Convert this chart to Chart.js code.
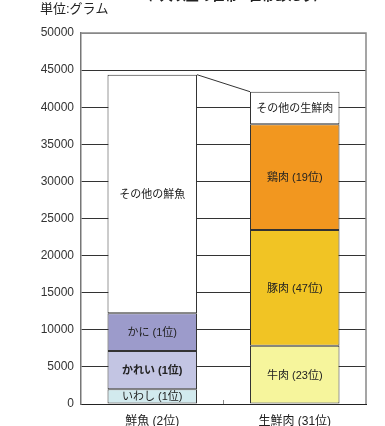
<!DOCTYPE html>
<html>
<head>
<meta charset="utf-8">
<script src="https://cdn.jsdelivr.net/npm/chart.js@4"></script>
<style>
  body { margin: 0; background: #fff; }
  canvas { display: block; }
</style>
</head>
<body>
<canvas id="chart" width="385" height="426"></canvas>
<script>
// categories and stacked segments (grams)
const categories = ['鮮魚 (2位)', '生鮮肉 (31位)'];
const layer1 = [2000, 7860];    // いわし / 牛肉
const layer2 = [5150, 15590];   // かれい / 豚肉
const layer3 = [5070, 14240];   // かに / 鶏肉
const layer4 = [32160, 4400];   // その他の鮮魚 / その他の生鮮肉
const layer1Labels = ['いわし (1位)', '牛肉 (23位)'];
const layer2Labels = ['かれい (1位)', '豚肉 (47位)'];
const layer3Labels = ['かに (1位)', '鶏肉 (19位)'];
const layer4Labels = ['その他の鮮魚', 'その他の生鮮肉'];
const yTicks = [0, 5000, 10000, 15000, 20000, 25000, 30000, 35000, 40000, 45000, 50000];

const FONT = "'Liberation Sans', Arial, 'Noto Sans CJK JP', sans-serif";

// text inside each segment
const segmentLabels = {
    id: 'segmentLabels',
    afterDatasetsDraw(chart) {
        const ctx = chart.ctx;
        ctx.save();
        ctx.textAlign = 'center';
        ctx.textBaseline = 'middle';
        ctx.fillStyle = '#222';
        chart.data.datasets.forEach((ds, i) => {
            const meta = chart.getDatasetMeta(i);
            meta.data.forEach((bar, j) => {
                const bold = ds.boldIndex === j;
                ctx.font = (bold ? 'bold ' : '') + '11px ' + FONT;
                ctx.fillText(ds.segLabels[j], bar.x, (bar.y + bar.base) / 2 + 1);
            });
        });
        // connector line between the two bar tops
        const top = chart.getDatasetMeta(chart.data.datasets.length - 1).data;
        ctx.strokeStyle = '#333';
        ctx.lineWidth = 1;
        ctx.beginPath();
        ctx.moveTo(top[0].x + top[0].width / 2, top[0].y);
        ctx.lineTo(top[1].x - top[1].width / 2, top[1].y);
        ctx.stroke();
        ctx.restore();
    }
};

// frame, middle tick, unit and (cut off) title
const frame = {
    id: 'frame',
    afterDraw(chart) {
        const { ctx, chartArea: a, scales } = chart;
        ctx.save();
        ctx.strokeStyle = '#888';
        ctx.lineWidth = 1.5;
        ctx.beginPath();
        ctx.moveTo(a.left, a.top);
        ctx.lineTo(a.right, a.top);
        ctx.lineTo(a.right, a.bottom);
        ctx.stroke();
        const mid = (scales.x.getPixelForValue(0) + scales.x.getPixelForValue(1)) / 2;
        ctx.lineWidth = 1;
        ctx.beginPath();
        ctx.moveTo(mid, a.bottom - 4);
        ctx.lineTo(mid, a.bottom);
        ctx.stroke();
        ctx.fillStyle = '#222';
        ctx.textBaseline = 'middle';
        ctx.textAlign = 'left';
        ctx.font = '13px ' + FONT;
        ctx.fillText('単位:グラム', 40, 9);
        ctx.font = 'bold 13px ' + FONT;
        ctx.textAlign = 'center';
        ctx.fillText('（2人以上の世帯 1世帯あたり）', 233, -4);
        ctx.restore();
    }
};

function layer(data, colors, labels, boldIndex) {
    return {
        data: data,
        backgroundColor: colors,
        borderColor: '#333',
        borderWidth: 1,
        borderSkipped: false,
        segLabels: labels,
        boldIndex: boldIndex
    };
}

new Chart(document.getElementById('chart'), {
    type: 'bar',
    data: {
        labels: categories,
        datasets: [
            layer(layer1, ['#d2eaee', '#f6f59c'], layer1Labels),
            layer(layer2, ['#c3c5e3', '#f1c424'], layer2Labels, 0),
            layer(layer3, ['#9c9bcb', '#f2971f'], layer3Labels),
            layer(layer4, ['#ffffff', '#ffffff'], layer4Labels)
        ]
    },
    options: {
        responsive: false,
        devicePixelRatio: 1,
        animation: false,
        categoryPercentage: 0.628,
        barPercentage: 1,
        layout: { padding: { left: 0, right: 19, top: 33, bottom: 0 } },
        plugins: {
            legend: { display: false },
            tooltip: { enabled: false }
        },
        scales: {
            x: {
                stacked: true,
                grid: { display: false },
                border: { color: '#222', width: 1 },
                ticks: { color: '#222', font: { family: FONT, size: 12 }, padding: 2 },
                afterFit: scale => { scale.height = 22; }
            },
            y: {
                stacked: true,
                min: 0,
                max: 50000,
                afterBuildTicks: scale => { scale.ticks = yTicks.map(v => ({ value: v })); },
                grid: {
                    drawTicks: false,
                    color: c => c.tick && c.tick.value === 50000 ? '#888' : '#333'
                },
                border: { color: '#777', width: 1.5 },
                ticks: {
                    color: '#333',
                    font: { family: FONT, size: 12 },
                    padding: 7,
                    callback: v => String(v)
                },
                afterFit: scale => { scale.width = 81; }
            }
        }
    },
    plugins: [segmentLabels, frame]
});
</script>
</body>
</html>
